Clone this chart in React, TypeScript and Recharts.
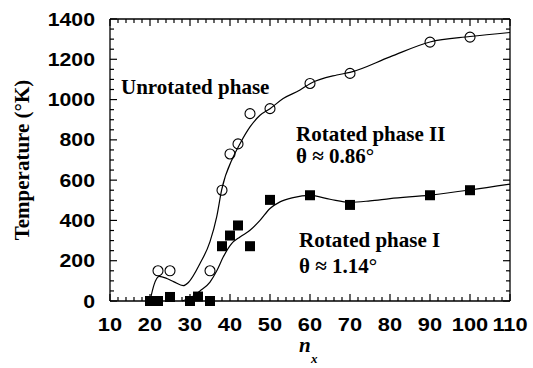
import React from 'react';
import { ComposedChart, Line, Scatter, XAxis, YAxis } from 'recharts';

const unrotatedNx = [22, 25, 35, 38, 40, 42, 45, 50, 60, 70, 90, 100];
const unrotatedT = [150, 150, 150, 550, 730, 780, 930, 955, 1080, 1130, 1285, 1310];

const rotatedNx = [20, 22, 25, 30, 32, 35, 38, 40, 42, 45, 50, 60, 70, 90, 100];
const rotatedT = [0, 0, 20, 0, 22, 0, 272, 325, 375, 272, 502, 525, 477, 525, 550];

// Fitted curves
const upperFitNx = [20, 21, 22.3, 24.2, 26, 28.3, 29.6, 32.5, 35, 36.7, 37.9, 40.8, 42.5, 45, 47.5, 50, 53.3, 57.5, 60, 66.7, 70, 80, 90, 100, 110];
const upperFitT = [0, 80, 122, 112, 95, 76, 92, 186, 295, 420, 550, 715, 781, 864, 922, 955, 1005, 1047, 1079, 1122, 1135, 1212, 1286, 1313, 1333];

const lowerFitNx = [28, 30, 32.5, 35, 36.7, 38.3, 40.4, 42.5, 45, 47.5, 50, 52.5, 55.8, 60, 65, 70, 75, 80, 90, 100, 110];
const lowerFitT = [0, 15, 50, 94, 150, 218, 285, 318, 351, 400, 459, 492, 513, 524, 505, 490, 497, 508, 526, 551, 580];

// Axis ticks
const xMajorTicks = [10, 20, 30, 40, 50, 60, 70, 80, 90, 100, 110];
const yMajorTicks = [0, 200, 400, 600, 800, 1000, 1200, 1400];
const xMinorStep = 2;
const yMinorStep = 50;

// Annotations
const annotations = [
  { text: 'Unrotated phase', left: 121, baseline: 95 },
  { text: 'Rotated phase II', left: 296, baseline: 142 },
  { text: 'θ ≈ 0.86°', left: 296, baseline: 164 },
  { text: 'Rotated phase I', left: 299, baseline: 248 },
  { text: 'θ ≈ 1.14°', left: 299, baseline: 274 },
];

const xTicks: number[] = [];
for (let v = 10; v <= 110; v += xMinorStep) xTicks.push(v);
const yTicks: number[] = [];
for (let v = 0; v <= 1400; v += yMinorStep) yTicks.push(v);

const zip = (xs: number[], ys: number[]) => xs.map((x, i) => ({ x, y: ys[i] }));
const unrotatedData = zip(unrotatedNx, unrotatedT);
const rotatedData = zip(rotatedNx, rotatedT);
const upperFit = zip(upperFitNx, upperFitT);
const lowerFit = zip(lowerFitNx, lowerFitT);

const MAJOR = 7;
const MINOR = 4;
const numFont = '"Liberation Sans", Arial, Helvetica, sans-serif';
const serif = '"Liberation Serif", "Times New Roman", Times, serif';
const FRAME = { stroke: '#000', strokeWidth: 1.3 };
const TC = '#000';
const TW = 1.2;

const BottomTick = (props: any) => {
  const { x, y, payload } = props;
  const major = xMajorTicks.includes(payload.value);
  return (
    <g>
      <line x1={x} y1={y} x2={x} y2={y - (major ? MAJOR : MINOR)} stroke={TC} strokeWidth={TW} />
      {major && (
        <text
          transform={`translate(${x},${y + 30}) scale(1.18,1)`}
          textAnchor="middle"
          fontFamily={numFont}
          fontWeight="bold"
          fontSize={18.5}
          fill="#000"
        >
          {payload.value}
        </text>
      )}
    </g>
  );
};

const TopTick = (props: any) => {
  const { x, y, payload } = props;
  const major = xMajorTicks.includes(payload.value);
  return <line x1={x} y1={y} x2={x} y2={y + (major ? MAJOR : MINOR)} stroke={TC} strokeWidth={TW} />;
};

const LeftTick = (props: any) => {
  const { x, y, payload } = props;
  const major = yMajorTicks.includes(payload.value);
  return (
    <g>
      <line x1={x} y1={y} x2={x + (major ? MAJOR : MINOR)} y2={y} stroke={TC} strokeWidth={TW} />
      {major && (
        <text
          transform={`translate(${x - 15},${y + 6.6}) scale(1.15,1)`}
          textAnchor="end"
          fontFamily={numFont}
          fontWeight="bold"
          fontSize={18.5}
          fill="#000"
        >
          {payload.value}
        </text>
      )}
    </g>
  );
};

const RightTick = (props: any) => {
  const { x, y, payload } = props;
  const major = yMajorTicks.includes(payload.value);
  return <line x1={x} y1={y} x2={x - (major ? MAJOR : MINOR)} y2={y} stroke={TC} strokeWidth={TW} />;
};

const XTitle = (props: any) => {
  const vb = props.viewBox || { x: 110, y: 301, width: 400, height: 67 };
  const cx = vb.x + vb.width / 2;
  return (
    <g>
      <text x={cx - 11} y={vb.y + 51} fontFamily={serif} fontStyle="italic" fontWeight="bold" fontSize={21} fill="#000">
        n
      </text>
      <text x={cx + 1} y={vb.y + 62} fontFamily={serif} fontStyle="italic" fontWeight="bold" fontSize={13} fill="#000">
        x
      </text>
    </g>
  );
};

const YTitle = (props: any) => {
  const vb = props.viewBox || { x: 0, y: 19, width: 110, height: 282 };
  const cx = vb.x + 29;
  const cy = vb.y + vb.height / 2;
  return (
    <text
      transform={`translate(${cx},${cy}) rotate(-90)`}
      textAnchor="middle"
      fontFamily={serif}
      fontWeight="bold"
      fontSize={21}
      fill="#000"
    >
      Temperature (°K)
    </text>
  );
};

const OpenCircle = (props: any) => {
  const { cx, cy } = props;
  return <circle cx={cx} cy={cy} r={5} fill="none" stroke="#000" strokeWidth={1.1} />;
};

const FilledSquare = (props: any) => {
  const { cx, cy } = props;
  return <rect x={cx - 5} y={cy - 5} width={10} height={10} fill="#000" />;
};

const NoShape = () => <g />;

export default function App() {
  return (
    <div style={{ position: 'absolute', left: 0, top: 0, width: 533, height: 368, background: '#fff' }}>
      <ComposedChart width={533} height={368} margin={{ top: 18, right: 22, bottom: 0, left: 0 }}>
        <XAxis
          xAxisId="b"
          dataKey="x"
          type="number"
          domain={[10, 110]}
          ticks={xTicks}
          interval={0}
          orientation="bottom"
          height={67}
          tickSize={0}
          tickMargin={0}
          tickLine={false}
          axisLine={FRAME}
          tick={<BottomTick />}
          label={<XTitle />}
        />
        <XAxis
          xAxisId="t"
          dataKey="x"
          type="number"
          domain={[10, 110]}
          ticks={xTicks}
          interval={0}
          orientation="top"
          height={1}
          tickSize={0}
          tickMargin={0}
          tickLine={false}
          axisLine={FRAME}
          tick={<TopTick />}
        />
        <YAxis
          yAxisId="l"
          type="number"
          domain={[0, 1400]}
          ticks={yTicks}
          interval={0}
          orientation="left"
          width={110}
          tickSize={0}
          tickMargin={0}
          tickLine={false}
          axisLine={FRAME}
          tick={<LeftTick />}
          label={<YTitle />}
        />
        <YAxis
          yAxisId="r"
          type="number"
          domain={[0, 1400]}
          ticks={yTicks}
          interval={0}
          orientation="right"
          width={1}
          tickSize={0}
          tickMargin={0}
          tickLine={false}
          axisLine={FRAME}
          tick={<RightTick />}
        />
        <Line
          xAxisId="b"
          yAxisId="l"
          data={upperFit}
          dataKey="y"
          type="monotone"
          stroke="#000"
          strokeWidth={1.2}
          dot={false}
          activeDot={false}
          isAnimationActive={false}
        />
        <Line
          xAxisId="b"
          yAxisId="l"
          data={lowerFit}
          dataKey="y"
          type="monotone"
          stroke="#000"
          strokeWidth={1.2}
          dot={false}
          activeDot={false}
          isAnimationActive={false}
        />
        <Scatter
          xAxisId="b"
          yAxisId="l"
          data={unrotatedData}
          dataKey="y"
          shape={<OpenCircle />}
          isAnimationActive={false}
        />
        <Scatter
          xAxisId="b"
          yAxisId="l"
          data={rotatedData}
          dataKey="y"
          shape={<FilledSquare />}
          isAnimationActive={false}
        />
        {/* binds the mirrored frame axes (top / right) so they render; draws nothing */}
        <Scatter
          xAxisId="t"
          yAxisId="r"
          data={rotatedData}
          dataKey="y"
          shape={<NoShape />}
          isAnimationActive={false}
        />
      </ComposedChart>
      {annotations.map((a) => (
        <div
          key={a.text}
          style={{
            position: 'absolute',
            left: a.left,
            top: a.baseline - 17.6,
            fontFamily: serif,
            fontWeight: 'bold',
            fontSize: 21,
            lineHeight: '21px',
            whiteSpace: 'nowrap',
            color: '#000',
            pointerEvents: 'none',
          }}
        >
          {a.text}
        </div>
      ))}
    </div>
  );
}
